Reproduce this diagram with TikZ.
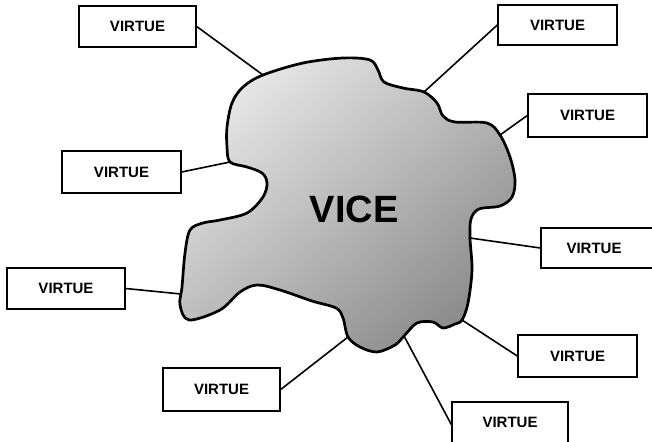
\documentclass[tikz,border=0pt]{standalone}
\usepackage{fontspec}
\setmainfont{Liberation Sans}
\begin{document}
\begin{tikzpicture}[x=1pt,y=-1pt,
  vbox/.style={draw, line width=1.4pt, fill=white, inner sep=0pt,
    minimum width=118pt, minimum height=41pt,
    font=\fontsize{15}{18}\selectfont\bfseries},
  conn/.style={line width=1.6pt},
  blobline/.style={line width=2.7pt, line join=round}]
\clip (0,0) rectangle (652,441);
% blob
\path[blobline, draw=black, top color=black!10, bottom color=black!45, shading angle=40]
  plot[smooth cycle, tension=0.55] coordinates {
  (263,75) (303,63) (343,58) (370,60) (378,70) (384,82) (403,88) (424,92)
  (437,103) (443,116) (455,122) (487,123) (500,135) (510,157) (515,180)
  (512,197) (500,206) (479,209) (471,219) (470,238) (472,270) (468,303)
  (462,320) (455,324) (443,328) (433,322) (417,323) (404,336) (395,345)
  (377,352) (360,347) (348,337) (343,318) (336,308) (312,301) (280,290)
  (257,285) (240,292) (220,310) (189,320) (180,305) (182,287) (185,253)
  (190,230) (203,223) (220,220) (247,213) (263,197) (267,183) (262,173)
  (247,167) (230,162) (227,147) (227,127) (232,103) (243,87)};
\coordinate (c1) at (263,75);
\coordinate (c2) at (424,92);
\coordinate (c3) at (500,135);
\coordinate (c4) at (230,162);
\coordinate (c5) at (470,238);
\coordinate (c6) at (181,294);
\coordinate (c7) at (462,320);
\coordinate (c8) at (348,337);
\coordinate (c9) at (404,336);
\node[font=\fontsize{38}{40}\selectfont\bfseries] (vice) at (354,209) {VICE};
% boxes
\node[vbox, minimum width=117pt] (b1) at (137.5,26.5) {VIRTUE};
\node[vbox, minimum width=119pt, minimum height=40pt] (b2) at (557.5,25) {VIRTUE};
\node[vbox, minimum width=119pt, minimum height=43pt] (b3) at (587.5,115.5) {VIRTUE};
\node[vbox, minimum width=119pt, minimum height=42pt] (b4) at (121.5,172) {VIRTUE};
\node[vbox, minimum width=119pt, minimum height=40pt] (b5) at (600.5,248) {VIRTUE\hspace*{13pt}};
\node[vbox] (b6) at (66,288.5) {VIRTUE};
\node[vbox, minimum width=119pt, minimum height=42pt] (b7) at (577.5,356) {VIRTUE};
\node[vbox, minimum width=117pt, minimum height=43pt] (b8) at (221.5,389.5) {VIRTUE};
\node[vbox, minimum width=116pt] (b9) at (510,422.5) {VIRTUE};
% connectors
\draw[conn] (b1.east) -- (c1);
\draw[conn] (b2.west) -- (c2);
\draw[conn] (b3.west) -- (c3);
\draw[conn] (b4.east) -- (c4);
\draw[conn] (b5.west) -- (c5);
\draw[conn] (b6.east) -- (c6);
\draw[conn] (b7.west) -- (c7);
\draw[conn] (b8.east) -- (c8);
\draw[conn] ([yshift=-2pt]b9.west) -- (c9);
\end{tikzpicture}
\end{document}
